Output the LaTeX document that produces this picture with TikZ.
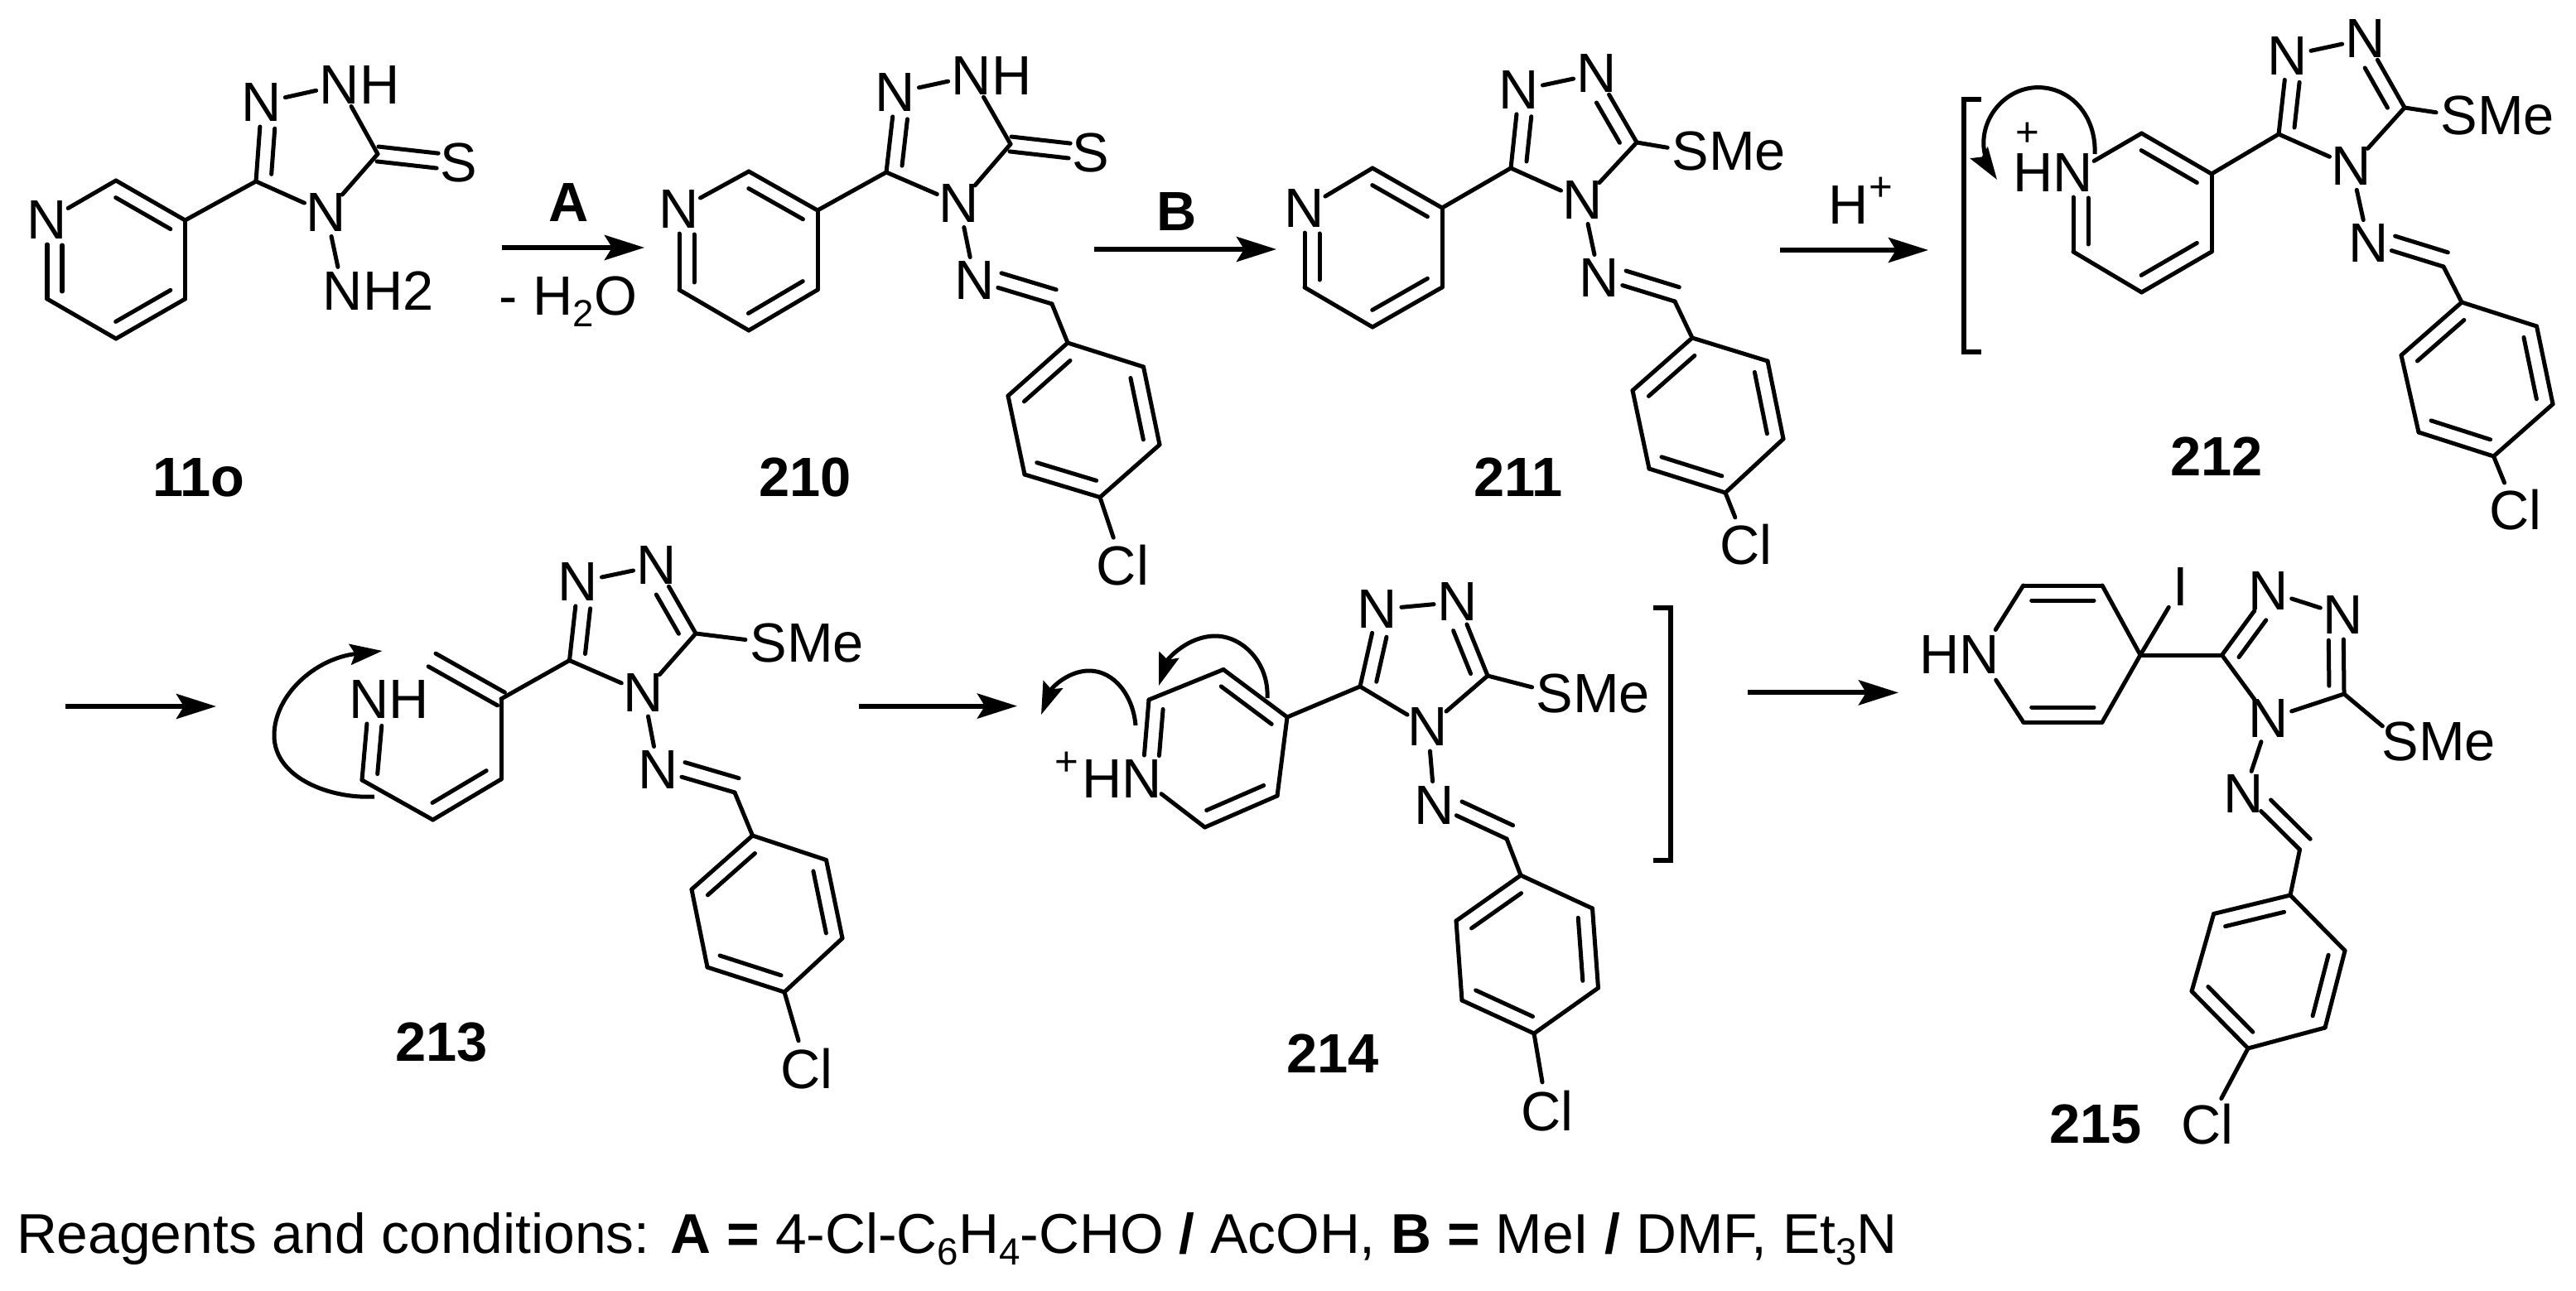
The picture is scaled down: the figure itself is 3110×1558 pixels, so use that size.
\documentclass[tikz,border=0pt]{standalone}
\usepackage{fontspec}
\setmainfont{Liberation Sans}
\usetikzlibrary{calc,arrows.meta}
\newcommand\fsz{\fontsize{19}{23}\selectfont}
\newcommand\fsub[1]{\raisebox{-0.22em}{\fontsize{13}{13}\selectfont #1}}
\newcommand\fsup[1]{\raisebox{0.42em}{\fontsize{14}{14}\selectfont #1}}
\tikzset{
  bond/.style={line width=0.05cm,line cap=round},
  atom/.style={circle,inner sep=-0.03cm,outer sep=0pt,font=\fsz},
  txt/.style={inner sep=0pt,outer sep=0pt,font=\fsz},
  lab/.style={inner sep=0pt,outer sep=0pt,font=\fsz\bfseries,anchor=base},
  plus/.style={inner sep=0pt,outer sep=0pt,font=\fontsize{14}{14}\selectfont},
  rxn/.style={line width=0.06cm,-{Stealth[length=0.48cm,width=0.30cm,inset=0.09cm]}},
  curly/.style={line width=0.05cm,-{Stealth[length=0.39cm,width=0.25cm,inset=0.06cm]}},
  brack/.style={line width=0.06cm,line join=miter}
}
\newcommand\bnd[2]{\draw[bond] (#1) -- (#2);}
\newcommand\dbl[5]{\draw[bond] (#1) -- (#2);
  \draw[bond,shorten <=#4*0.01cm,shorten >=#5*0.01cm] ($(#1)!#3*0.01cm!90:(#2)$) -- ($(#2)!#3*0.01cm!-90:(#1)$);}
\newcommand\sym[4]{%
  \draw[bond,shorten >=#4*0.01cm] ($(#1)!#3*0.01cm!90:(#2)$) -- ($(#2)!#3*0.01cm!-90:(#1)$);
  \draw[bond,shorten >=#4*0.01cm] ($(#1)!-#3*0.01cm!90:(#2)$) -- ($(#2)!-#3*0.01cm!-90:(#1)$);}
\newcommand\pyr[1]{\bnd{#1n}{#1c2}\dbl{#1c2}{#1c3}{-18}{10}{10}\bnd{#1c3}{#1c4}
  \dbl{#1c4}{#1c5}{-18}{10}{10}\bnd{#1c5}{#1c6}\dbl{#1c6}{#1n}{-18}{9}{30}\bnd{#1c3}{#1t3}}
\newcommand\tri[1]{\dbl{#1t3}{#1n1}{-18}{10}{30}\bnd{#1n1}{#1n2}\dbl{#1n2}{#1t5}{-18}{30}{10}
  \bnd{#1t5}{#1n4}\bnd{#1n4}{#1t3}\bnd{#1t5}{#1s}}
\newcommand\imine[1]{\bnd{#1n4}{#1ni}\dbl{#1ni}{#1ch}{18}{28}{0}\bnd{#1ch}{#1ip}
  \dbl{#1o}{#1ip}{-18}{10}{12}\bnd{#1o}{#1m}\dbl{#1p}{#1m}{-18}{10}{10}\bnd{#1p}{#1mb}
  \dbl{#1ob}{#1mb}{-18}{10}{10}\bnd{#1ob}{#1ip}\bnd{#1p}{#1cl}}
\begin{document}
\begin{tikzpicture}[x=0.01cm,y=-0.01cm]
\path[fill=white,use as bounding box] (0,0) rectangle (3110,1558);
% ---------- 11o
\node[atom] (an) at (57,266) {N};
\coordinate (ac2) at (140,218); \coordinate (ac3) at (223.5,266); \coordinate (ac4) at (223.5,361);
\coordinate (ac5) at (140,409); \coordinate (ac6) at (57,361);
\coordinate (at3) at (309,219); \coordinate (at5) at (456,186);
\node[atom] (an1) at (316,124) {N};
\node[atom] (an2) at (410,103) {N\rlap{H}};
\node[atom] (an4) at (394,257) {N};
\node[atom] (as) at (554,197) {S};
\node[atom] (ani) at (414,351) {N\rlap{H2}};
\pyr{a}
\dbl{at3}{an1}{-18}{10}{30}\bnd{an1}{an2}\bnd{an2}{at5}\bnd{at5}{an4}\bnd{an4}{at3}\sym{at5}{as}{9}{26}
\bnd{an4}{ani}
\node[lab] (l11o) at (240,599) {11o};
% arrow A
\coordinate (r1s) at (606,299); \coordinate (r1e) at (778,299);
\draw[rxn] (r1s) -- (r1e);
\node[lab] (lA) at (687,268) {A};
\node[txt,anchor=base] (lw) at (686,380) {- H\fsub{2}O};
% ---------- 210
\node[atom] (bn) at (820,253) {N};
\coordinate (bc2) at (904,207); \coordinate (bc3) at (987,254); \coordinate (bc4) at (987,350);
\coordinate (bc5) at (904,399); \coordinate (bc6) at (820,350);
\coordinate (bt3) at (1070,208); \coordinate (bt5) at (1220,174);
\node[atom] (bn1) at (1081,112) {N};
\node[atom] (bn2) at (1173,92) {N\rlap{H}};
\node[atom] (bn4) at (1158,246) {N};
\node[atom] (bs) at (1317,185) {S};
\node[atom] (bni) at (1177,339) {N};
\coordinate (bch) at (1270,367); \coordinate (bip) at (1289,414); \coordinate (bo) at (1217,478);
\coordinate (bm) at (1237,573); \coordinate (bp) at (1328,600.5); \coordinate (bmb) at (1400,537);
\coordinate (bob) at (1380.5,443);
\node[atom] (bcl) at (1355.5,683) {Cl};
\pyr{b}
\dbl{bt3}{bn1}{-18}{10}{30}\bnd{bn1}{bn2}\bnd{bn2}{bt5}\bnd{bt5}{bn4}\bnd{bn4}{bt3}\sym{bt5}{bs}{9}{26}
\imine{b}
\node[lab] (l210) at (972,599) {210};
% arrow B
\coordinate (r2s) at (1321,301); \coordinate (r2e) at (1541,301);
\draw[rxn] (r2s) -- (r2e);
\node[lab] (lB) at (1421,279) {B};
% ---------- 211
\node[atom] (cn) at (1575,252) {N};
\coordinate (cc2) at (1657,203); \coordinate (cc3) at (1741,251); \coordinate (cc4) at (1741,347);
\coordinate (cc5) at (1657,395); \coordinate (cc6) at (1575,347);
\coordinate (ct3) at (1824,203); \coordinate (ct5) at (1976,172);
\node[atom] (cn1) at (1834,109) {N};
\node[atom] (cn2) at (1928,89) {N};
\node[atom] (cn4) at (1911,242) {N};
\node[atom] (cs) at (2041,183) {S\rlap{Me}};
\node[atom] (cni) at (1931,336) {N};
\coordinate (cch) at (2022,364); \coordinate (cip) at (2043,408); \coordinate (co) at (1971,471.5);
\coordinate (cm) at (1991,566); \coordinate (cp) at (2083,595); \coordinate (cmb) at (2153,530);
\coordinate (cob) at (2134,436);
\node[atom] (ccl) at (2108,658) {Cl};
\pyr{c}\tri{c}\imine{c}
\node[lab] (l211) at (1833,599) {211};
% arrow H+
\coordinate (r3s) at (2149,302); \coordinate (r3e) at (2328,302);
\draw[rxn] (r3s) -- (r3e);
\node[txt,anchor=base] (lH) at (2232,271) {H\rlap{\fsup{+}}};
% ---------- 212
\coordinate (dbt) at (2392,120); \coordinate (dbu) at (2371,120);
\coordinate (dbv) at (2371,425); \coordinate (dbb) at (2392,425);
\draw[brack] (dbt) -- (dbu) -- (dbv) -- (dbb);
\node[atom] (dn) at (2503,209) {\llap{H}N};
\node[plus] (dplus) at (2448,162) {+};
\coordinate (dc2) at (2585.5,161); \coordinate (dc3) at (2670,210); \coordinate (dc4) at (2670,304);
\coordinate (dc5) at (2585.5,353); \coordinate (dc6) at (2503,304);
\coordinate (dt3) at (2751,162); \coordinate (dt5) at (2903,130);
\node[atom] (dn1) at (2761.5,67.5) {N};
\node[atom] (dn2) at (2856,47) {N};
\node[atom] (dn4) at (2839,201) {N};
\node[atom] (ds) at (2969,140) {S\rlap{Me}};
\node[atom] (dni) at (2859.5,294) {N};
\coordinate (dch) at (2950,322); \coordinate (dip) at (2972,365); \coordinate (do) at (2899,429);
\coordinate (dm) at (2920,522); \coordinate (dp) at (3010.5,551); \coordinate (dmb) at (3082,488);
\coordinate (dob) at (3062.5,394);
\node[atom] (dcl) at (3037,616) {Cl};
\pyr{d}\tri{d}\imine{d}
\coordinate (dcs) at (2529,186); \coordinate (dce) at (2411,217);
\draw[curly] (dcs) .. controls (2531,140) and (2500,105.6) .. (2460.5,105.6)
  .. controls (2420,105.6) and (2388,145) .. (2396,185) .. controls (2398,195) and (2403,205) .. (dce);
\node[lab] (l212) at (2676,574) {212};
% ---------- arrow to 213
\coordinate (r4s) at (79,853); \coordinate (r4e) at (261,853);
\draw[rxn] (r4s) -- (r4e);
% ---------- 213
\node[atom] (en) at (445.5,845) {N\rlap{H}};
\coordinate (ec6) at (437,942); \coordinate (ec5) at (522.6,990); \coordinate (ec4) at (605,941);
\coordinate (ec3) at (605,844); \coordinate (ex2) at (521.6,797);
\coordinate (et3) at (687.5,797.5); \coordinate (et5) at (840,765);
\node[atom] (en1) at (698,703) {N};
\node[atom] (en2) at (793,683) {N};
\node[atom] (en4) at (777,836.5) {N};
\node[atom] (es) at (928,776) {S\rlap{Me}};
\node[atom] (eni) at (795,930) {N};
\coordinate (ech) at (887,957); \coordinate (eip) at (908.5,1009); \coordinate (eo) at (835,1074);
\coordinate (em) at (854,1168); \coordinate (ep) at (947,1198); \coordinate (emb) at (1017,1133);
\coordinate (eob) at (997.5,1038.5);
\node[atom] (ecl) at (974,1291) {Cl};
\dbl{ec6}{en}{-18}{9}{30}\bnd{ec6}{ec5}\dbl{ec4}{ec5}{-18}{10}{10}\bnd{ec4}{ec3}\sym{ex2}{ec3}{9}{0}
\bnd{ec3}{et3}\tri{e}\imine{e}
\coordinate (ecs) at (452,962); \coordinate (ece) at (461.6,786);
\draw[curly] (ecs) .. controls (400,965) and (331,940) .. (331,888)
  .. controls (331,840) and (380,795) .. (ece);
\node[lab] (l213) at (533,1281) {213};
% ---------- arrow to 214
\coordinate (r5s) at (1036.5,852.6); \coordinate (r5e) at (1228,852.6);
\draw[rxn] (r5s) -- (r5e);
% ---------- 214
\node[atom] (fn) at (1379,941) {\llap{H}N};
\node[plus] (fplus) at (1288,922) {+};
\coordinate (fc2) at (1387,845); \coordinate (fc3) at (1477,808.5); \coordinate (fc4) at (1554,866);
\coordinate (fc5) at (1542,961); \coordinate (fc6) at (1454.6,999);
\coordinate (ft3) at (1642,829); \coordinate (ft5) at (1796,816);
\node[atom] (fn1) at (1663,736) {N};
\node[atom] (fn2) at (1760,727) {N};
\node[atom] (fn4) at (1724,878) {N};
\node[atom] (fs) at (1877,837) {S\rlap{Me}};
\node[atom] (fni) at (1732,972.5) {N};
\coordinate (fch) at (1819,1013); \coordinate (fip) at (1836,1057); \coordinate (fo) at (1758,1112);
\coordinate (fm) at (1765,1208); \coordinate (fp) at (1852,1248); \coordinate (fmb) at (1929.5,1193);
\coordinate (fob) at (1922.5,1097);
\node[atom] (fcl) at (1868,1342) {Cl};
\dbl{fn}{fc2}{-18}{30}{10}\bnd{fc2}{fc3}\dbl{fc3}{fc4}{-18}{10}{10}\bnd{fc4}{fc5}
\dbl{fc5}{fc6}{-18}{10}{10}\bnd{fc6}{fn}\bnd{fc4}{ft3}\tri{f}\imine{f}
\coordinate (fas) at (1371,876); \coordinate (fae) at (1257,863);
\draw[curly] (fas) .. controls (1368,840) and (1345,810) .. (1315,810)
  .. controls (1290,810) and (1270,830) .. (fae);
\coordinate (fbs) at (1530,843); \coordinate (fbe) at (1399,828);
\draw[curly] (fbs) .. controls (1532,800) and (1500,768) .. (1467,768)
  .. controls (1435,768) and (1410,795) .. (fbe);
\coordinate (fbt) at (1996,734); \coordinate (fbu) at (2017,734);
\coordinate (fbv) at (2017,1039); \coordinate (fbb) at (1996,1039);
\draw[brack] (fbt) -- (fbu) -- (fbv) -- (fbb);
\node[lab] (l214) at (1609,1295) {214};
% ---------- arrow to 215
\coordinate (r6s) at (2109.6,836.4); \coordinate (r6e) at (2292,836.4);
\draw[rxn] (r6s) -- (r6e);
% ---------- 215
\node[atom] (gn) at (2390,791) {\llap{H}N};
\coordinate (gc2) at (2442.7,707); \coordinate (gc3) at (2538,707); \coordinate (gc4) at (2584,791);
\coordinate (gc5) at (2538,872); \coordinate (gc6) at (2442.7,872);
\node[atom] (gi) at (2633,708.5) {I};
\coordinate (gt3) at (2682.5,791); \coordinate (gt5) at (2830,838);
\node[atom] (gn1) at (2739,714) {N};
\node[atom] (gn2) at (2829,743) {N};
\node[atom] (gn4) at (2739,868) {N};
\node[atom] (gs) at (2898,895) {S\rlap{Me}};
\node[atom] (gni) at (2709,959) {N};
\coordinate (gch) at (2776.5,1026); \coordinate (gip) at (2765,1081); \coordinate (go) at (2672.6,1103.5);
\coordinate (gm) at (2646,1197); \coordinate (gp) at (2714,1266); \coordinate (gmb) at (2807,1241);
\coordinate (gob) at (2831,1148);
\node[atom] (gcl) at (2665,1358) {Cl};
\draw[bond,shorten <=0.07cm] (gn) -- (gc2);
\dbl{gc2}{gc3}{-18}{10}{10}\bnd{gc3}{gc4}\bnd{gc4}{gc5}\dbl{gc5}{gc6}{-18}{10}{10}
\draw[bond,shorten >=0.07cm] (gc6) -- (gn);
\draw[bond,shorten >=0.08cm] (gc4) -- (gi);
\bnd{gc4}{gt3}\tri{g}\imine{g}
\node[lab] (l215) at (2530,1380) {215};
% ---------- caption
\node[txt,font=\fontsize{19.27}{23}\selectfont,anchor=base west] (cap) at (20,1513) {Reagents and conditions: \textbf{A = }4-Cl-C\fsub{6}H\fsub{4}-CHO \textbf{/} AcOH, \textbf{B = }MeI \textbf{/} DMF, Et\fsub{3}N};
\end{tikzpicture}
\end{document}
